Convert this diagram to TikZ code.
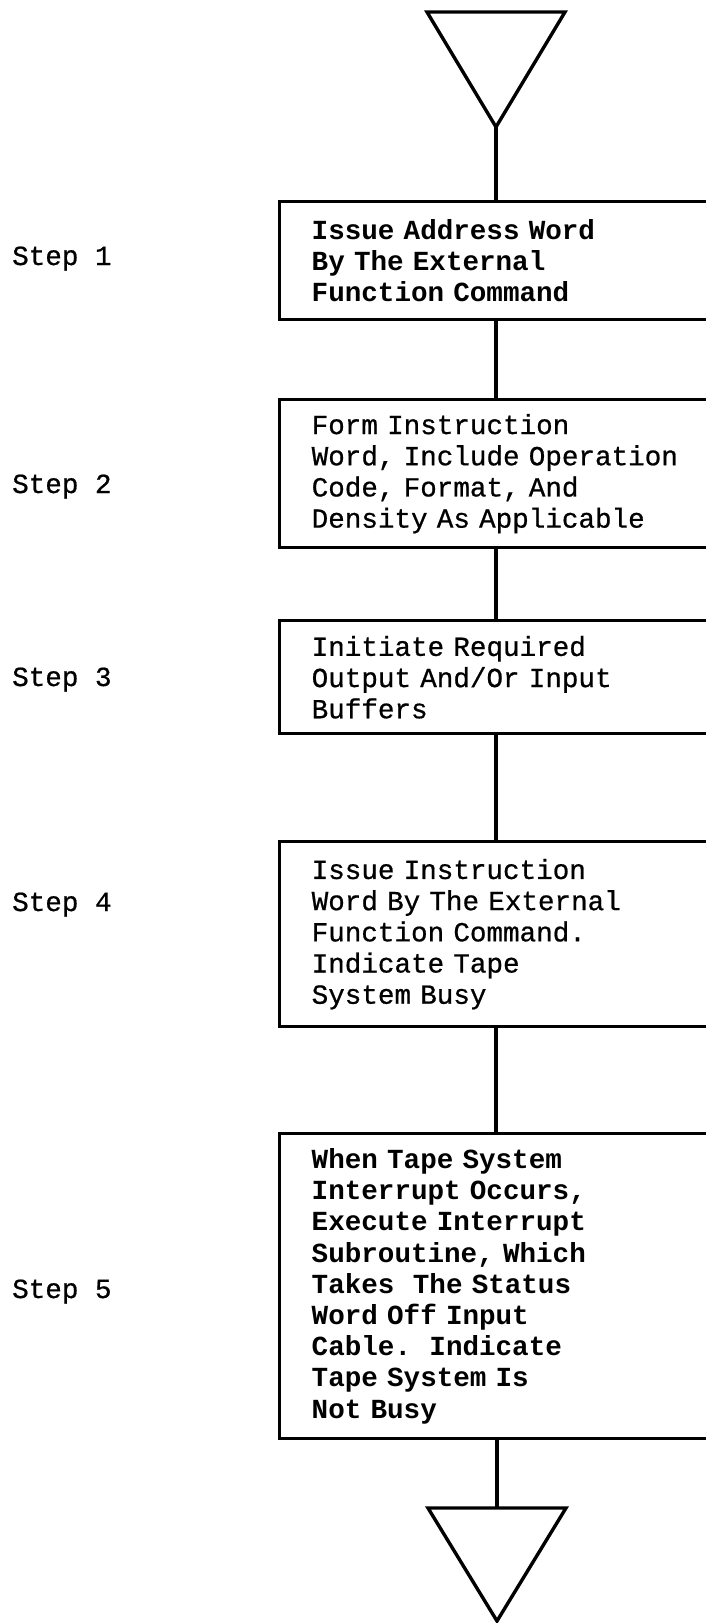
\documentclass[tikz,border=0pt]{standalone}
\usepackage{fontspec}
\setmonofont{Liberation Mono}
\newfontfamily\typeface{Liberation Mono}[FakeBold=0.7]
\begin{document}
\frenchspacing
\begin{tikzpicture}[x=1pt, y=-1pt,
  every node/.style={font=\fontsize{27.6}{31.2}\selectfont\typeface},
  flowbox/.style={draw, line width=3.4pt, rectangle, anchor=north west,
    minimum width=470pt, inner xsep=32pt, inner ysep=0pt,
    text width=406pt, align=left},
  heavy/.style={font=\fontsize{27.6}{31.2}\selectfont\ttfamily\bfseries},
  steplabel/.style={anchor=base west, inner sep=0pt},
  link/.style={line width=3.4pt},
  terminal/.style={line width=3.4pt, line join=miter}]
\useasboundingbox (0,0) rectangle (706,1623);
\fill[white] (0,0) rectangle (706,1623);
\clip (0,0) rectangle (706,1623);

% entry and exit markers
\coordinate (inapex) at (496,127);
\coordinate (outtop) at (497,1508);
\draw[terminal] (427,12) -- (565,12) -- (inapex) -- cycle;
\draw[terminal] (428,1508) -- (566,1508) -- (497,1621) -- cycle;

% process boxes
\node[flowbox, heavy, minimum height=118pt] (b1) at (278,200)
  {Issue Address Word\\By The External\\Function Command};
\node[flowbox, minimum height=148pt] (b2) at (278,398)
  {Form Instruction\\Word, Include Operation\\Code, Format, And\\Density As Applicable};
\node[flowbox, minimum height=113pt] (b3) at (278,619)
  {Initiate Required\\Output And/Or Input\\Buffers};
\node[flowbox, minimum height=185pt] (b4) at (278,840)
  {Issue Instruction\\Word By The External\\Function Command.\\Indicate Tape\\System Busy};
\node[flowbox, heavy, minimum height=305pt] (b5) at (278,1132)
  {When Tape System\\Interrupt Occurs,\\Execute Interrupt\\Subroutine, Which\\Takes~~The Status\\Word Off Input\\Cable.~~Indicate\\Tape System Is\\Not Busy};

% connectors
\draw[link] (inapex) -- (inapex |- b1.north);
\draw[link] (inapex |- b1.south) -- (inapex |- b2.north);
\draw[link] (inapex |- b2.south) -- (inapex |- b3.north);
\draw[link] (inapex |- b3.south) -- (inapex |- b4.north);
\draw[link] (inapex |- b4.south) -- (inapex |- b5.north);
\draw[link] (outtop |- b5.south) -- (outtop);

% step labels
\node[steplabel] (s1) at (12,265) {Step 1};
\node[steplabel] (s2) at (12,493) {Step 2};
\node[steplabel] (s3) at (12,686) {Step 3};
\node[steplabel] (s4) at (12,911) {Step 4};
\node[steplabel] (s5) at (12,1298) {Step 5};
\end{tikzpicture}
\end{document}
